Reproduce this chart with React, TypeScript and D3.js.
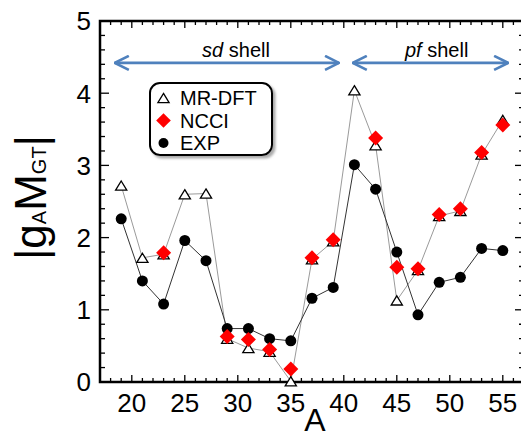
import * as d3 from 'd3';

const W = 521, H = 438;

// mass numbers A
const A_ALL = [19, 21, 23, 25, 27, 29, 31, 33, 35, 37, 39, 41, 43, 45, 47, 49, 51, 53, 55];
const MRDFT = [2.72, 1.72, 1.77, 2.60, 2.61, 0.60, 0.47, 0.42, 0.01, 1.70, 1.95, 4.04, 3.28, 1.13, 1.55, 2.30, 2.37, 3.15, 3.63];
const EXP = [2.26, 1.40, 1.08, 1.96, 1.68, 0.74, 0.74, 0.60, 0.57, 1.16, 1.31, 3.01, 2.67, 1.80, 0.93, 1.38, 1.45, 1.85, 1.82];
const A_NCCI = [23, 29, 31, 33, 35, 37, 39, 43, 45, 47, 49, 51, 53, 55];
const NCCI = [1.79, 0.63, 0.59, 0.45, 0.18, 1.72, 1.97, 3.38, 1.59, 1.57, 2.32, 2.40, 3.18, 3.56];

const X_TICKS = [20, 25, 30, 35, 40, 45, 50, 55];
const Y_TICKS = [0, 1, 2, 3, 4, 5];

// shell annotations (data units)
const SHELLS = [
  { name: 'sd', from: 18.4, to: 39.55, labelX: 29.83 },
  { name: 'pf', from: 40.85, to: 55.5, labelX: 48.76 },
];
const SHELL_Y = 4.42, SHELL_LABEL_Y = 4.5;

const LEGEND = ['MR-DFT', 'NCCI', 'EXP'];

const FONT = '"Liberation Sans", Arial, sans-serif';
const BLUE = '#4f81bd';

const x = d3.scaleLinear().domain([17, 57]).range([100, 524]);
const y = d3.scaleLinear().domain([0, 5]).range([382, 21]);

const tri = (cx: number, cy: number) => `M${cx},${cy - 4.6}L${cx + 5.6},${cy + 4.6}L${cx - 5.6},${cy + 4.6}Z`;
const dia = (cx: number, cy: number, r = 7.5) => `M${cx},${cy - r}L${cx + r},${cy}L${cx},${cy + r}L${cx - r},${cy}Z`;

export default function App() {
  const [x0, x1] = x.range();
  const [y0, y1] = y.range();
  const xMinor = d3.range(18, 57, 1).filter(v => v % 5 !== 0);
  const yMinor = d3.range(0, 5.001, 0.2).filter(v => Math.abs(v - Math.round(v)) > 0.01);

  const line = d3.line<number>().x((_, i) => x(A_ALL[i])).y(v => y(v));

  return (
    <svg width={W} height={H} style={{ position: 'absolute', left: 0, top: 0, background: '#fff' }} fontFamily={FONT}>
      <defs>
        <filter id="sh" x="-20%" y="-20%" width="150%" height="150%">
          <feDropShadow dx="2.5" dy="2.5" stdDeviation="1.2" floodColor="#888" floodOpacity="0.7" />
        </filter>
        <marker id="ah" viewBox="0 0 16 16" refX="15" refY="8" markerWidth="16" markerHeight="16" markerUnits="userSpaceOnUse" orient="auto-start-reverse">
          <path d="M1,1L15,8L1,15" fill="none" stroke={BLUE} strokeWidth="2.6" />
        </marker>
      </defs>

      {/* ticks */}
      <g stroke="#000" strokeWidth={1.3}>
        {X_TICKS.map(t => (
          <g key={'xt' + t}>
            <line x1={x(t)} x2={x(t)} y1={y0} y2={y0 - 7} />
            <line x1={x(t)} x2={x(t)} y1={y1} y2={y1 + 7} />
          </g>
        ))}
        {xMinor.map(t => (
          <g key={'xm' + t}>
            <line x1={x(t)} x2={x(t)} y1={y0} y2={y0 - 4} />
            <line x1={x(t)} x2={x(t)} y1={y1} y2={y1 + 4} />
          </g>
        ))}
        {Y_TICKS.map(t => (
          <g key={'yt' + t}>
            <line x1={x0} x2={x0 + 9} y1={y(t)} y2={y(t)} />
            <line x1={x1} x2={x1 - 9} y1={y(t)} y2={y(t)} />
          </g>
        ))}
        {yMinor.map(t => (
          <g key={'ym' + t}>
            <line x1={x0} x2={x0 + 5} y1={y(t)} y2={y(t)} />
            <line x1={x1} x2={x1 - 5} y1={y(t)} y2={y(t)} />
          </g>
        ))}
      </g>
      <rect x={x0} y={y1} width={x1 - x0} height={y0 - y1} fill="none" stroke="#000" strokeWidth={2.5} />

      {/* tick labels */}
      <g fontSize={26} fill="#000">
        {X_TICKS.map(t => (
          <text key={'xl' + t} x={x(t)} y={411.5} textAnchor="middle">{t}</text>
        ))}
        {Y_TICKS.map(t => (
          <text key={'yl' + t} x={91} y={y(t) + 9.3} textAnchor="end">{t}</text>
        ))}
      </g>

      {/* axis titles */}
      <text x={315} y={431} fontSize={32} textAnchor="middle">A</text>
      <text transform="translate(46,197.5) rotate(-90)" textAnchor="middle" fontSize={44}>
        |g<tspan fontSize={20}>A</tspan>M<tspan fontSize={20}>GT</tspan>|
      </text>

      {/* shell arrows */}
      {SHELLS.map(s => (
        <g key={s.name}>
          <line x1={x(s.from)} x2={x(s.to)} y1={y(SHELL_Y)} y2={y(SHELL_Y)} stroke={BLUE} strokeWidth={2.6}
            markerStart="url(#ah)" markerEnd="url(#ah)" />
          <text x={x(s.labelX)} y={y(SHELL_LABEL_Y)} fontSize={20} textAnchor="middle">
            <tspan fontStyle="italic">{s.name}</tspan> shell
          </text>
        </g>
      ))}

      {/* lines */}
      <path d={line(MRDFT) ?? ''} fill="none" stroke="#9a9a9a" strokeWidth={1} />
      <path d={line(EXP) ?? ''} fill="none" stroke="#333" strokeWidth={1} />

      {/* markers */}
      {EXP.map((v, i) => (
        <circle key={'e' + i} cx={x(A_ALL[i])} cy={y(v)} r={5.5} fill="#000" />
      ))}
      {MRDFT.map((v, i) => (
        <path key={'m' + i} d={tri(x(A_ALL[i]), y(v))} fill="#fff" stroke="#000" strokeWidth={1.3} />
      ))}
      {NCCI.map((v, i) => (
        <path key={'n' + i} d={dia(x(A_NCCI[i]), y(v))} fill="#ff0000" />
      ))}

      {/* legend */}
      <rect x={150} y={83} width={122} height={72} rx={10} fill="#fff" stroke="#000" strokeWidth={2} filter="url(#sh)" />
      {LEGEND.map((name, i) => {
        const cy = 98 + i * 22.5;
        return (
          <g key={name}>
            {i === 0 && <path d={tri(163.5, cy)} fill="#fff" stroke="#000" strokeWidth={1.3} />}
            {i === 1 && <path d={dia(163.5, cy, 7.3)} fill="#ff0000" />}
            {i === 2 && <circle cx={163.5} cy={cy} r={5} fill="#000" />}
            <text x={180} y={cy + 7} fontSize={20}>{name}</text>
          </g>
        );
      })}
    </svg>
  );
}
